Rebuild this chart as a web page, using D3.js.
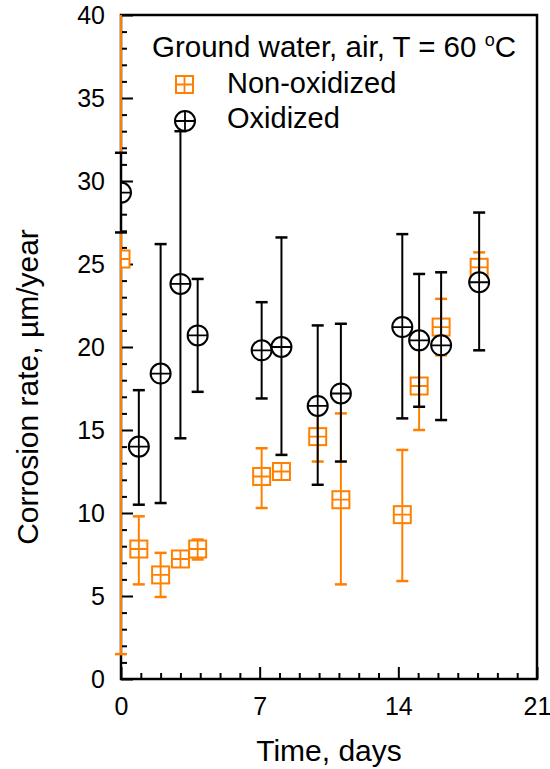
<!DOCTYPE html>
<html>
<head>
<meta charset="utf-8">
<script src="https://cdn.jsdelivr.net/npm/d3@7"></script>
<style>
  body { margin: 0; background: #fff; }
  text { font-family: "Liberation Sans", Arial, sans-serif; fill: #000; }
</style>
</head>
<body>
<div class="chart"></div>
<script>
// Non-oxidized samples (orange squares)
const nonOxDays = [0, 0.9, 2.0, 3.0, 3.87, 7.1, 8.1, 9.93, 11.1, 14.2, 15.05, 16.16, 18.08]
const nonOxRate = [25.3, 7.83, 6.27, 7.23, 7.83, 12.2, 12.5, 14.6, 10.8, 9.9, 17.65, 21.2, 24.8]
const nonOxLow  = [1.5, 5.7, 4.94, 6.8, 7.2, 10.3, 12.1, 13.1, 5.7, 5.9, 15.0, 19.5, 23.9]
const nonOxHigh = [49, 9.8, 7.6, 7.7, 8.4, 13.9, 12.9, 16.0, 16.0, 13.8, 20.3, 22.9, 25.7]

// Oxidized samples (black circles)
const oxDays = [0, 0.9, 2.0, 3.0, 3.87, 7.1, 8.1, 9.93, 11.1, 14.2, 15.05, 16.16, 18.08]
const oxRate = [29.3, 14.0, 18.4, 23.8, 20.7, 19.8, 20.0, 16.45, 17.2, 21.2, 20.4, 20.1, 23.9]
const oxLow  = [26.9, 10.5, 10.6, 14.5, 17.3, 16.9, 13.5, 11.7, 13.1, 15.7, 16.4, 15.6, 19.8]
const oxHigh = [31.7, 17.4, 26.2, 33.0, 24.1, 22.7, 26.6, 21.3, 21.4, 26.8, 24.4, 24.5, 28.1]

const xTicks = [0, 7, 14, 21]
const yTicks = [0, 5, 10, 15, 20, 25, 30, 35, 40]

const ORANGE = '#ff8000'
const W = 550, H = 769
const margin = { top: 15, right: 13, bottom: 90, left: 121 }

const svg = d3.select('.chart').append('svg')
  .attr('width', W).attr('height', H)

const x = d3.scaleLinear().domain([0, 21]).range([margin.left, W - margin.right])
const y = d3.scaleLinear().domain([0, 40]).range([H - margin.bottom, margin.top])

svg.append('clipPath').attr('id', 'plotclip')
  .append('rect')
  .attr('x', x(0) - 12).attr('y', y(40))
  .attr('width', x(21) - x(0) + 12).attr('height', y(0) - y(40))

svg.append('clipPath').attr('id', 'markclip')
  .append('rect')
  .attr('x', x(0)).attr('y', y(40))
  .attr('width', x(21) - x(0)).attr('height', y(0) - y(40))

// axes: inward ticks
const axB = svg.append('g').attr('transform', `translate(0,${y(0)})`)
axB.call(d3.axisBottom(x).tickValues(d3.range(0, 22)).tickSize(-6).tickFormat(''))
axB.call(g => g.selectAll('.tick').filter(d => xTicks.includes(d)).select('line').attr('y2', -12))
axB.selectAll('line').attr('stroke', '#000').attr('stroke-width', 2)
axB.select('.domain').remove()
axB.selectAll('.tick').filter(d => xTicks.includes(d)).append('text')
  .attr('y', 36).attr('text-anchor', 'middle')
  .style('font-size', '25px')
  .text(d => d)

const axL = svg.append('g').attr('transform', `translate(${x(0)},0)`)
axL.call(d3.axisLeft(y).tickValues(d3.range(0, 41)).tickSize(-6).tickFormat(''))
axL.call(g => g.selectAll('.tick').filter(d => yTicks.includes(d)).select('line').attr('x2', 12))
axL.selectAll('line').attr('stroke', '#000').attr('stroke-width', 2)
axL.select('.domain').remove()
axL.selectAll('.tick').filter(d => yTicks.includes(d)).append('text')
  .attr('x', -16).attr('dy', '0.35em').attr('text-anchor', 'end')
  .style('font-size', '25px')
  .text(d => d)

// frame
svg.append('rect')
  .attr('x', x(0)).attr('y', y(40))
  .attr('width', x(21) - x(0)).attr('height', y(0) - y(40))
  .attr('fill', 'none').attr('stroke', '#000').attr('stroke-width', 2.5)

// axis titles
svg.append('text')
  .attr('x', 329).attr('y', 761)
  .attr('text-anchor', 'middle').style('font-size', '30px')
  .text('Time, days')

svg.append('text')
  .attr('transform', 'translate(38,387) rotate(-90)')
  .attr('text-anchor', 'middle').style('font-size', '30px')
  .text('Corrosion rate, µm/year')

function series(days, rate, low, high, color, shape) {
  const data = days.map((d, i) => ({ d, v: rate[i], lo: low[i], hi: high[i] }))
  const g = svg.append('g')
  const bars = g.append('g').attr('clip-path', 'url(#plotclip)')
  bars.append('g').selectAll('line').data(data).join('line')
    .attr('x1', d => x(d.d)).attr('x2', d => x(d.d))
    .attr('y1', d => y(d.lo)).attr('y2', d => y(d.hi))
    .attr('stroke', color).attr('stroke-width', 2)
  bars.append('g').selectAll('line').data(data).join('line')
    .attr('x1', d => x(d.d) - 6).attr('x2', d => x(d.d) + 6)
    .attr('y1', d => y(d.lo)).attr('y2', d => y(d.lo))
    .attr('stroke', color).attr('stroke-width', 2.5)
  bars.append('g').selectAll('line').data(data).join('line')
    .attr('x1', d => x(d.d) - 6).attr('x2', d => x(d.d) + 6)
    .attr('y1', d => y(d.hi)).attr('y2', d => y(d.hi))
    .attr('stroke', color).attr('stroke-width', 2.5)

  const marks = g.append('g').attr('clip-path', 'url(#markclip)')
    .selectAll('g').data(data).join('g')
    .attr('transform', d => `translate(${x(d.d)},${y(d.v)})`)
  drawMarker(marks, color, shape)
}

function drawMarker(sel, color, shape) {
  if (shape === 'square') {
    const s = 8.5
    sel.append('rect').attr('x', -s).attr('y', -s).attr('width', 2 * s).attr('height', 2 * s)
      .attr('fill', '#fff').attr('stroke', color).attr('stroke-width', 2)
    sel.append('path').attr('d', `M${-s},0H${s}M0,${-s}V${s}`)
      .attr('stroke', color).attr('stroke-width', 1.8)
  } else {
    const r = 10
    sel.append('circle').attr('r', r)
      .attr('fill', '#fff').attr('stroke', color).attr('stroke-width', 2)
    sel.append('path').attr('d', `M${-r},0H${r}M0,${-r}V${r}`)
      .attr('stroke', color).attr('stroke-width', 1.8)
  }
}

series(nonOxDays, nonOxRate, nonOxLow, nonOxHigh, ORANGE, 'square')
series(oxDays, oxRate, oxLow, oxHigh, '#000', 'circle')

// legend
const leg = svg.append('g')
const title = leg.append('text').attr('x', 152).attr('y', 57).style('font-size', '29.5px')
title.append('tspan').text('Ground water, air, T = 60 ')
title.append('tspan').attr('dy', -11).style('font-size', '18px').text('o')
title.append('tspan').attr('dy', 11).text('C')

const l1 = leg.append('g').attr('transform', 'translate(184.5,84.5)')
drawMarker(l1, ORANGE, 'square')
leg.append('text').attr('x', 227).attr('y', 93).style('font-size', '29px').text('Non-oxidized')

const l2 = leg.append('g').attr('transform', 'translate(185,121)')
drawMarker(l2, '#000', 'circle')
leg.append('text').attr('x', 227).attr('y', 128).style('font-size', '29px').text('Oxidized')
</script>
</body>
</html>
